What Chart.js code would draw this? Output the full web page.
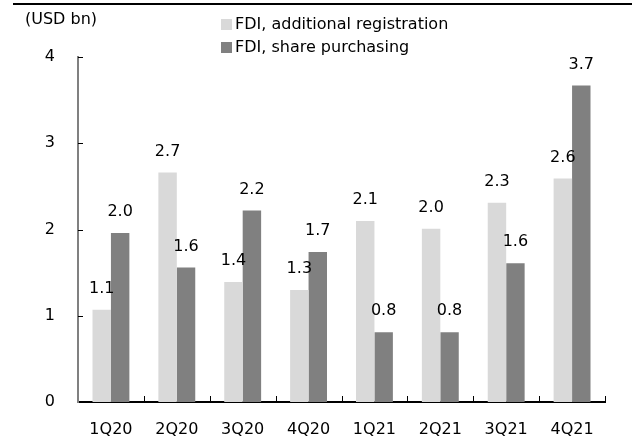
<!DOCTYPE html>
<html>
<head>
<meta charset="utf-8">
<script src="https://cdn.jsdelivr.net/npm/chart.js@4/dist/chart.umd.min.js"></script>
<style>
  body { margin: 0; background: #fff; }
  canvas { display: block; }
</style>
</head>
<body>
<canvas id="chart" width="632" height="442"></canvas>
<script>
// quarters on the x axis
const categories = ['1Q20', '2Q20', '3Q20', '4Q20', '1Q21', '2Q21', '3Q21', '4Q21'];
// USD bn
const additionalRegistration = [1.07, 2.66, 1.39, 1.30, 2.10, 2.01, 2.31, 2.59];
const sharePurchasing = [1.96, 1.56, 2.22, 1.74, 0.81, 0.81, 1.61, 3.67];
const seriesNames = ['FDI, additional registration', 'FDI, share purchasing'];
const yTicks = [0, 1, 2, 3, 4];
const unitLabel = '(USD bn)';

const FONT = '"DejaVu Sans", sans-serif';
const colors = ['#d9d9d9', '#808080'];

// Excel style bits: top rule, unit text, stacked legend, inward ticks
const decorations = {
  id: 'decorations',
  afterDraw(chart) {
    const ctx = chart.ctx;
    const area = chart.chartArea;
    const y = chart.scales.y;
    ctx.save();

    ctx.fillStyle = '#000';
    ctx.fillRect(13, 3, 632 - 13, 2);

    ctx.font = '16px ' + FONT;
    ctx.textBaseline = 'middle';
    ctx.textAlign = 'left';
    ctx.fillStyle = '#000';
    ctx.fillText(unitLabel, 25, 20);

    chart.data.datasets.forEach(function(ds, i) {
      const top = 19 + i * 23;
      ctx.fillStyle = ds.backgroundColor;
      ctx.fillRect(221, top, 11, 11);
      ctx.fillStyle = '#000';
      ctx.fillText(ds.label, 235, top + 6);
    });

    ctx.strokeStyle = '#000';
    ctx.lineWidth = 1;
    ctx.beginPath();
    yTicks.forEach(function(v) {
      if(v === 0) return;
      const py = Math.round(y.getPixelForValue(v)) + 0.5;
      ctx.moveTo(area.left, py);
      ctx.lineTo(area.left + 5, py);
    });
    const step = (area.right - area.left) / categories.length;
    for(var i = 1; i <= categories.length; i++) {
      const px = Math.round(area.left + step * i) + 0.5;
      ctx.moveTo(px, area.bottom);
      ctx.lineTo(px, area.bottom - 6);
    }
    ctx.stroke();
    ctx.restore();
  },
  afterDatasetsDraw(chart) {
    const ctx = chart.ctx;
    ctx.save();
    ctx.font = '16px ' + FONT;
    ctx.fillStyle = '#000';
    ctx.textAlign = 'center';
    ctx.textBaseline = 'middle';
    chart.data.datasets.forEach(function(ds, i) {
      chart.getDatasetMeta(i).data.forEach(function(bar, j) {
        ctx.fillText(ds.data[j].toFixed(1), bar.x, bar.y - 21);
      });
    });
    ctx.restore();
  }
};

new Chart(document.getElementById('chart'), {
  type: 'bar',
  data: {
    labels: categories,
    datasets: [
      { label: seriesNames[0], data: additionalRegistration, backgroundColor: colors[0] },
      { label: seriesNames[1], data: sharePurchasing, backgroundColor: colors[1] }
    ]
  },
  options: {
    responsive: false,
    animation: false,
    devicePixelRatio: 1,
    categoryPercentage: 0.56,
    barPercentage: 1,
    layout: { padding: { top: 57, right: 27, left: 0, bottom: 0 } },
    plugins: {
      legend: { display: false },
      tooltip: { enabled: false }
    },
    scales: {
      x: {
        grid: { display: false },
        border: { display: true, color: '#000', width: 2 },
        ticks: { color: '#000', font: { family: FONT, size: 16 }, padding: 10, maxRotation: 0 },
        afterFit(scale) { scale.height = 40; }
      },
      y: {
        min: 0,
        max: 4,
        grid: { display: false },
        border: { display: true, color: '#808080', width: 2 },
        ticks: {
          stepSize: 1,
          color: '#000',
          font: { family: FONT, size: 16 },
          padding: 15
        },
        afterFit(scale) { scale.width = 78; }
      }
    }
  },
  plugins: [decorations]
});
</script>
</body>
</html>
